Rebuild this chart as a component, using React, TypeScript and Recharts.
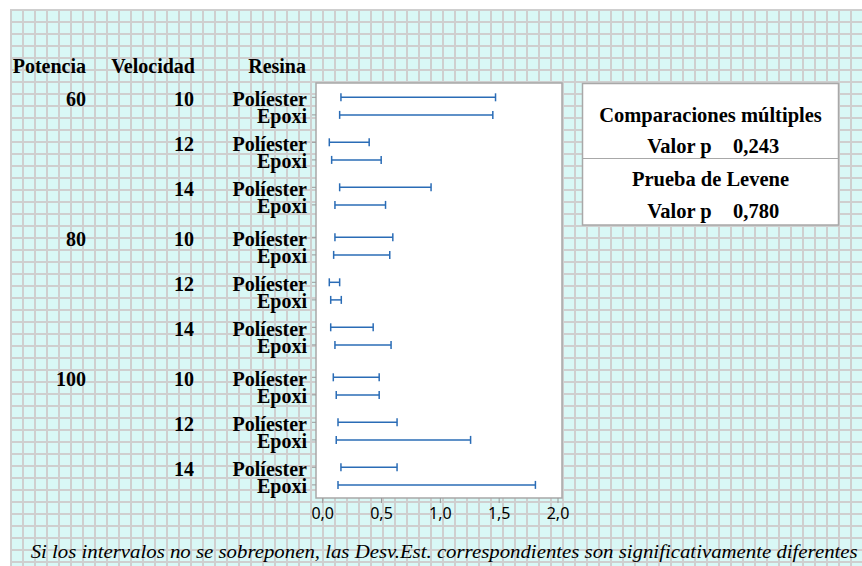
import { ScatterChart, Scatter, XAxis, YAxis, ErrorBar, ReferenceArea } from 'recharts';

// factores
const potencias = ['60', '80', '100'];
const velocidades = ['10', '12', '14'];
const resinas = ['Políester', 'Epoxi'];

// intervalos de confianza de la desv. est. (orden: potencia > velocidad > resina)
const lower = [0.155, 0.144, 0.056, 0.076, 0.144, 0.104, 0.104, 0.093, 0.056, 0.068, 0.068, 0.104, 0.09, 0.115, 0.13, 0.115, 0.155, 0.13];
const upper = [1.469, 1.446, 0.395, 0.497, 0.921, 0.534, 0.596, 0.57, 0.144, 0.158, 0.429, 0.581, 0.48, 0.48, 0.632, 1.257, 0.632, 1.808];

const xTicks = [0, 0.5, 1, 1.5, 2];

const headers = ['Potencia', 'Velocidad', 'Resina'];
const statTitles = ['Comparaciones múltiples', 'Prueba de Levene'];
const pValues = ['0,243', '0,780'];
const footnote = 'Si los intervalos no se sobreponen, las Desv.Est. correspondientes son significativamente diferentes';

// separación vertical entre filas
const POT_GAP = 140;
const VEL_GAP = 45;
const RES_GAP = 17.6;

type Row = { pot: string; vel: string; res: string; pos: number; mid: number; err: number };

const rows: Row[] = [];
potencias.forEach((pot, pi) =>
  velocidades.forEach((vel, vi) =>
    resinas.forEach((res, ri) => {
      const i = rows.length;
      rows.push({
        pot,
        vel,
        res,
        pos: pi * POT_GAP + vi * VEL_GAP + ri * RES_GAP,
        mid: (lower[i] + upper[i]) / 2,
        err: (upper[i] - lower[i]) / 2,
      });
    })
  )
);

const SERIF = '"Liberation Serif", "Times New Roman", serif';
const X_DOMAIN = [-0.057, 2.034];
const Y_DOMAIN = [-14.3, 400.7];

function RowTick(props: any) {
  const { y, payload } = props;
  const row = rows.find((r) => Math.abs(r.pos - payload.value) < 0.01);
  if (!row) return null;
  const first = row.res === resinas[0];
  return (
    <g fontFamily={SERIF} fontWeight="bold" fontSize={20} fill="#000">
      <text x={307} y={y + 8.5} textAnchor="end">{row.res}</text>
      {first && <text x={194} y={y + 8.5} textAnchor="end">{row.vel}</text>}
      {first && row.vel === velocidades[0] && (
        <text x={86} y={y + 8.5} textAnchor="end">{row.pot}</text>
      )}
    </g>
  );
}

export default function App() {
  return (
    <div style={{ position: 'absolute', left: 0, top: 0, width: 862, height: 566, background: '#fff' }}>
      <div
        style={{
          position: 'absolute',
          left: 10,
          top: 9,
          width: 852,
          height: 557,
          backgroundColor: '#d9f8f6',
          backgroundImage:
            'linear-gradient(#cfcfcf 2px, transparent 2px), linear-gradient(90deg, #cfcfcf 2px, transparent 2px)',
          backgroundSize: '12px 12px',
        }}
      />
      <div style={{ position: 'absolute', left: 0, top: 0 }}>
        <ScatterChart width={862} height={566} margin={{ top: 83, right: 300, bottom: 28, left: 16 }}>
          <XAxis
            type="number"
            dataKey="mid"
            domain={X_DOMAIN}
            allowDataOverflow
            ticks={xTicks}
            tickFormatter={(v: number) => v.toFixed(1).replace('.', ',')}
            axisLine={false}
            tickLine={{ stroke: '#9a9a9a' }}
            tickSize={5}
            tickMargin={5}
            height={40}
            tick={{ fill: '#000', fontSize: 16, fontFamily: '"Noto Sans", sans-serif' }}
          />
          <YAxis
            type="number"
            dataKey="pos"
            domain={Y_DOMAIN}
            allowDataOverflow
            reversed
            ticks={rows.map((r) => r.pos)}
            interval={0}
            axisLine={false}
            tickLine={{ stroke: '#9a9a9a' }}
            tickSize={4}
            width={300}
            tick={<RowTick />}
          />
          <ReferenceArea
            x1={X_DOMAIN[0]}
            x2={X_DOMAIN[1]}
            y1={Y_DOMAIN[0]}
            y2={Y_DOMAIN[1]}
            fill="#fff"
            fillOpacity={1}
            stroke="#a8a8a8"
            strokeWidth={1.5}
            ifOverflow="visible"
          />
          <Scatter data={rows} isAnimationActive={false} shape={() => <g />}>
            <ErrorBar dataKey="err" direction="x" width={4} stroke="#2a6cb6" strokeWidth={1.5} isAnimationActive={false} />
          </Scatter>
        </ScatterChart>
      </div>
      <svg width={862} height={566} style={{ position: 'absolute', left: 0, top: 0, pointerEvents: 'none' }}>
        <g fontFamily={SERIF} fontWeight="bold" fontSize={20} fill="#000">
          <text x={86} y={72.7} textAnchor="end">{headers[0]}</text>
          <text x={195} y={72.7} textAnchor="end">{headers[1]}</text>
          <text x={306} y={72.7} textAnchor="end">{headers[2]}</text>
        </g>
        <rect x={582.5} y={83.5} width={256} height={141.5} fill="#fff" stroke="#a8a8a8" strokeWidth={1.5} />
        <line x1={582} x2={839} y1={158.5} y2={158.5} stroke="#a8a8a8" strokeWidth={1} />
        <g fontFamily={SERIF} fontWeight="bold" fontSize={20.5} fill="#000">
          {statTitles.map((t, i) => (
            <g key={t}>
              <text x={710.5} y={121.7 + i * 64.5} textAnchor="middle">{t}</text>
              <text x={711.7} y={153.3 + i * 65} textAnchor="end">Valor p</text>
              <text x={733} y={153.3 + i * 65}>{pValues[i]}</text>
            </g>
          ))}
        </g>
        <text x={30.7} y={558} fontFamily={SERIF} fontStyle="italic" fontSize={19.5} fill="#000" textLength={827} lengthAdjust="spacingAndGlyphs">
          {footnote}
        </text>
      </svg>
    </div>
  );
}
